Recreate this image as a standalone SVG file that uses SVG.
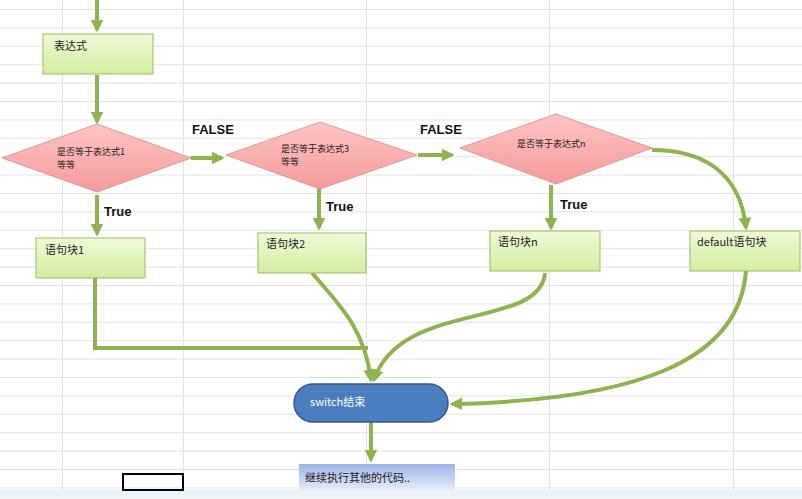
<svg xmlns="http://www.w3.org/2000/svg" width="802" height="499" viewBox="0 0 802 499">
<defs>
<pattern id="rows" width="802" height="18.4" patternUnits="userSpaceOnUse" y="9"><line x1="0" y1="0.5" x2="802" y2="0.5" stroke="#e2e2e2" stroke-width="1"/></pattern>
<marker id="ar" viewBox="0 0 10 10" refX="8" refY="5" markerWidth="3.2" markerHeight="3.2" orient="auto"><path d="M0,0 L10,5 L0,10 z" fill="#8fb34f"/></marker>
<linearGradient id="g" x1="0" y1="0" x2="0" y2="1"><stop offset="0" stop-color="#f0fad8"/><stop offset="1" stop-color="#d2eea0"/></linearGradient>
<linearGradient id="r" x1="0" y1="0" x2="0" y2="1"><stop offset="0" stop-color="#ffc4c4"/><stop offset="1" stop-color="#f59a9a"/></linearGradient>
<linearGradient id="b" x1="0" y1="0" x2="0" y2="1"><stop offset="0" stop-color="#9db3e6"/><stop offset="1" stop-color="#e6ecf8"/></linearGradient>
</defs>
<style>
.box{fill:url(#g);stroke:#9bbb59;stroke-width:1}
.dia{fill:url(#r);stroke:#d99;stroke-width:1}
.c{fill:none;stroke:#8fb34f;stroke-width:4;marker-end:url(#ar)}
.n{fill:none;stroke:#8fb34f;stroke-width:4}
text{font-family:"Noto Sans CJK SC","Liberation Sans",sans-serif;font-size:11px;fill:#222}
.s{font-size:9px}
.k{font-family:"Liberation Sans",sans-serif;font-weight:bold;font-size:13px;fill:#111}
</style>
<rect width="802" height="499" fill="#fff"/>
<rect width="802" height="499" fill="url(#rows)"/>
<g stroke="#e2e2e2" stroke-width="1">
<line x1="62.5" y1="0" x2="62.5" y2="499"/><line x1="183.5" y1="0" x2="183.5" y2="499"/><line x1="366.5" y1="0" x2="366.5" y2="499"/><line x1="549.5" y1="0" x2="549.5" y2="499"/><line x1="733.5" y1="0" x2="733.5" y2="499"/>
</g>
<rect x="0" y="490" width="802" height="9" fill="#eef3f8"/>
<rect x="123" y="474" width="60" height="16" fill="none" stroke="#000" stroke-width="2"/>
<g id="connectors">
<path class="c" d="M97,0 V30"/>
<path class="c" d="M97,75 V122"/>
<path class="c" d="M191,158 H222"/>
<path class="c" d="M418,155 H452"/>
<path class="c" d="M97,195 V234"/>
<path class="c" d="M319,188 V228"/>
<path class="c" d="M551,185 V228"/>
<path class="c" d="M652,150 C700,150 740,170 746,228"/>
<path class="n" d="M95,273 V348 H368"/>
<path class="c" d="M312,273 C340,305 365,330 371,380"/>
<path class="c" d="M545,273 C540,330 400,300 374,380"/>
<path class="c" d="M746,270 C740,360 640,400 452,404"/>
<path class="c" d="M371,420 V460"/>
</g>
<g id="n1"><rect class="box" x="43" y="34" width="110" height="40"/><text x="54" y="50">表达式</text></g>
<g id="d1"><polygon class="dia" points="2,158 97,124 191,158 97,192"/><text class="s" x="57" y="155">是否等于表达式1</text><text class="s" x="57" y="168">等等</text></g>
<g id="d2"><polygon class="dia" points="226,155 320,122 417,155 320,189"/><text class="s" x="281" y="152">是否等于表达式3</text><text class="s" x="281" y="165">等等</text></g>
<g id="d3"><polygon class="dia" points="460,148 556,114 652,148 556,184"/><text class="s" x="517" y="147">是否等于表达式n</text></g>
<text class="k" x="192" y="134">FALSE</text>
<text class="k" x="420" y="134">FALSE</text>
<text class="k" x="104" y="216">True</text>
<text class="k" x="326" y="211">True</text>
<text class="k" x="560" y="209">True</text>
<g id="b1"><rect class="box" x="36" y="238" width="109" height="40"/><text x="45" y="254">语句块1</text></g>
<g id="b2"><rect class="box" x="258" y="233" width="108" height="40"/><text x="266" y="248">语句块2</text></g>
<g id="b3"><rect class="box" x="490" y="231" width="110" height="40"/><text x="498" y="246">语句块n</text></g>
<g id="b4"><rect class="box" x="690" y="231" width="110" height="40"/><text x="697" y="246">default语句块</text></g>
<g id="end"><rect x="294" y="384" width="154" height="38" rx="19" fill="#4a7ebf" stroke="#35598a" stroke-width="1.5"/><text x="310" y="406" style="fill:#fff">switch结束</text></g>
<g id="next"><rect x="299" y="464" width="156" height="26" fill="url(#b)"/><text x="305" y="482">继续执行其他的代码..</text></g>
</svg>
